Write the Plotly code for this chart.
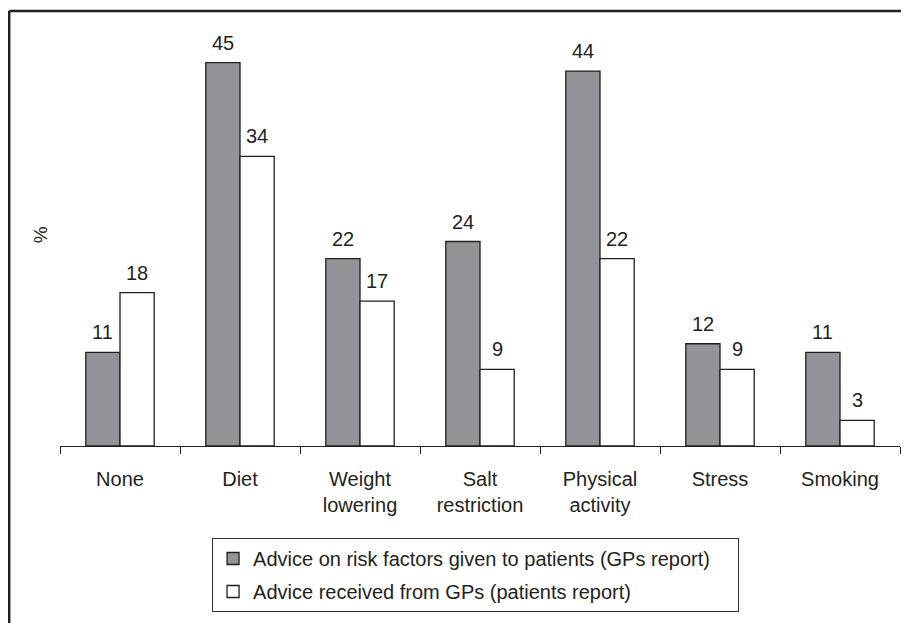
import plotly.graph_objects as go

categories = ["None", "Diet", "Weight<br>lowering", "Salt<br>restriction",
              "Physical<br>activity", "Stress", "Smoking"]
gp_report = [11, 45, 22, 24, 44, 12, 11]
patient_report = [18, 34, 17, 9, 22, 9, 3]
series_names = ["Advice on risk factors given to patients (GPs report)\u00a0\u00a0\u00a0\u00a0",
                "Advice received from GPs (patients report)"]

font_family = "Liberation Sans, Arial, sans-serif"
ink = "#231f20"

fig = go.Figure()
fig.add_trace(go.Bar(
    x=categories, y=gp_report, name=series_names[0], legendgroup="a",
    marker=dict(color="#939498", line=dict(color=ink, width=1.3)),
))
fig.add_trace(go.Bar(
    x=categories, y=patient_report, name=series_names[1], legendgroup="b",
    marker=dict(color="white", line=dict(color=ink, width=1.3)),
))

# value labels above each bar
bar_half = 17.2
for cat, v1, v2 in zip(categories, gp_report, patient_report):
    for val, shift in ((v1, -bar_half), (v2, bar_half)):
        fig.add_annotation(
            x=cat, y=val, text=str(val), showarrow=False,
            xshift=shift, yshift=7, yanchor="bottom",
            font=dict(size=20, color=ink, family=font_family),
        )

# "%" axis label
fig.add_annotation(
    xref="paper", yref="paper", x=-0.0238, y=0.495, text="%",
    xanchor="center", yanchor="middle",
    showarrow=False, textangle=-90,
    font=dict(size=19, color=ink, family=font_family),
)

# frame lines (top and left)
frame = dict(color="#231f20", width=2.5)
fig.add_shape(type="line", xref="paper", yref="paper",
              x0=-0.0605, x1=1.02, y0=1.0211, y1=1.0211, line=frame)
fig.add_shape(type="line", xref="paper", yref="paper",
              x0=-0.0605, x1=-0.0605, y0=1.0211, y1=-0.43, line=frame)

# page body has an 8px margin, so the figure is drawn 8px smaller
fig.update_layout(
    width=901, height=615, autosize=False,
    margin=dict(l=52, r=9, t=12, b=177),
    paper_bgcolor="white", plot_bgcolor="white",
    barmode="group", bargap=0.43, bargroupgap=0,
    font=dict(family=font_family, size=20, color=ink),
    showlegend=True,
    legend=dict(
        x=0.181, y=-0.216, xanchor="left", yanchor="top",
        orientation="v", traceorder="grouped", tracegroupgap=4,
        bordercolor="#333333", borderwidth=1, bgcolor="white",
        font=dict(size=20, color=ink, family=font_family),
    ),
    xaxis=dict(
        type="category", showline=True, linecolor=ink, linewidth=1,
        ticks="outside", tickson="boundaries", ticklen=7, tickcolor=ink,
        showgrid=False, ticklabelstandoff=15,
        tickfont=dict(size=20, color=ink, family=font_family),
    ),
    yaxis=dict(range=[0, 50], visible=False),
)

fig.write_html("out.html")
